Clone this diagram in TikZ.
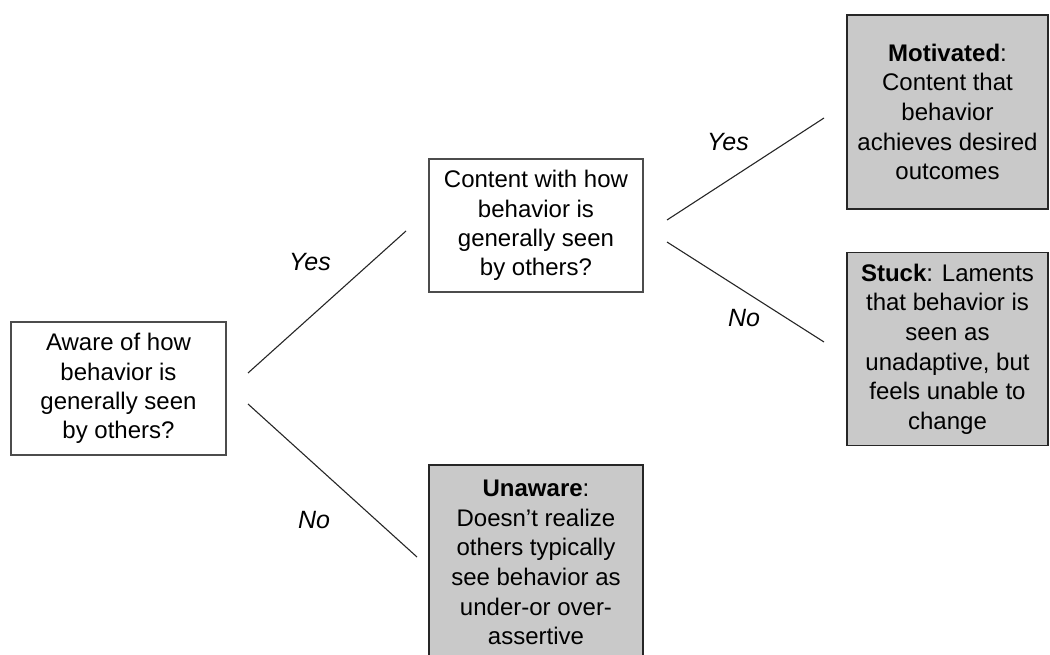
\documentclass[tikz,border=0pt]{standalone}
\usepackage{fontspec}
\setmainfont{Liberation Sans}
\begin{document}
\begin{tikzpicture}[x=1pt,y=-1pt,
  qbox/.style={draw=black!70,line width=1.2pt,fill=white,align=center,inner sep=0pt,
    font=\fontsize{24}{29.3}\selectfont},
  obox/.style={draw=black!85,line width=1.7pt,fill=black!21,align=center,inner sep=0pt,
    font=\fontsize{24}{29.6}\selectfont},
  branch/.style={line width=1.1pt,black!85},
  lbl/.style={font=\fontsize{25}{29}\selectfont\itshape,inner sep=0pt}]
\useasboundingbox (0,0) rectangle (1050,655);
\clip (0,0) rectangle (1050,655);
\node[qbox,minimum width=215pt,minimum height=133pt] (A) at (118.5,388.5)
  {Aware of how\\behavior is\\generally seen\\by others?};
\node[qbox,minimum width=214pt,minimum height=133pt] (B) at (536,225.5)
  {Content with how\\behavior is\\generally seen\\by others?};
\node[obox,minimum width=201pt,minimum height=194pt] (M) at (947.5,112)
  {\textbf{Motivated}:\\Content that\\behavior\\achieves desired\\outcomes};
\node[obox,minimum width=201pt,minimum height=193pt] (S) at (947.5,349)
  {\textbf{Stuck}: Laments\\that behavior is\\seen as\\unadaptive, but\\feels unable to\\change};
\node[obox,minimum width=214pt,minimum height=195pt] (U) at (536,562.5)
  {\textbf{Unaware}:\\Doesn’t realize\\others typically\\see behavior as\\under-or over-\\assertive};
\coordinate (a1) at (248,373);
\coordinate (a2) at (406,231);
\coordinate (a3) at (248,404);
\coordinate (a4) at (417,557);
\coordinate (b1) at (667,220);
\coordinate (b2) at (824,118);
\coordinate (b3) at (667,242);
\coordinate (b4) at (824,342);
\draw[branch] (a1) -- (a2);
\draw[branch] (a3) -- (a4);
\draw[branch] (b1) -- (b2);
\draw[branch] (b3) -- (b4);
\node[lbl] (y1) at (310,262) {Yes};
\node[lbl] (n1) at (314,520) {No};
\node[lbl] (y2) at (728,142) {Yes};
\node[lbl] (n2) at (744,318) {No};
\end{tikzpicture}
\end{document}
